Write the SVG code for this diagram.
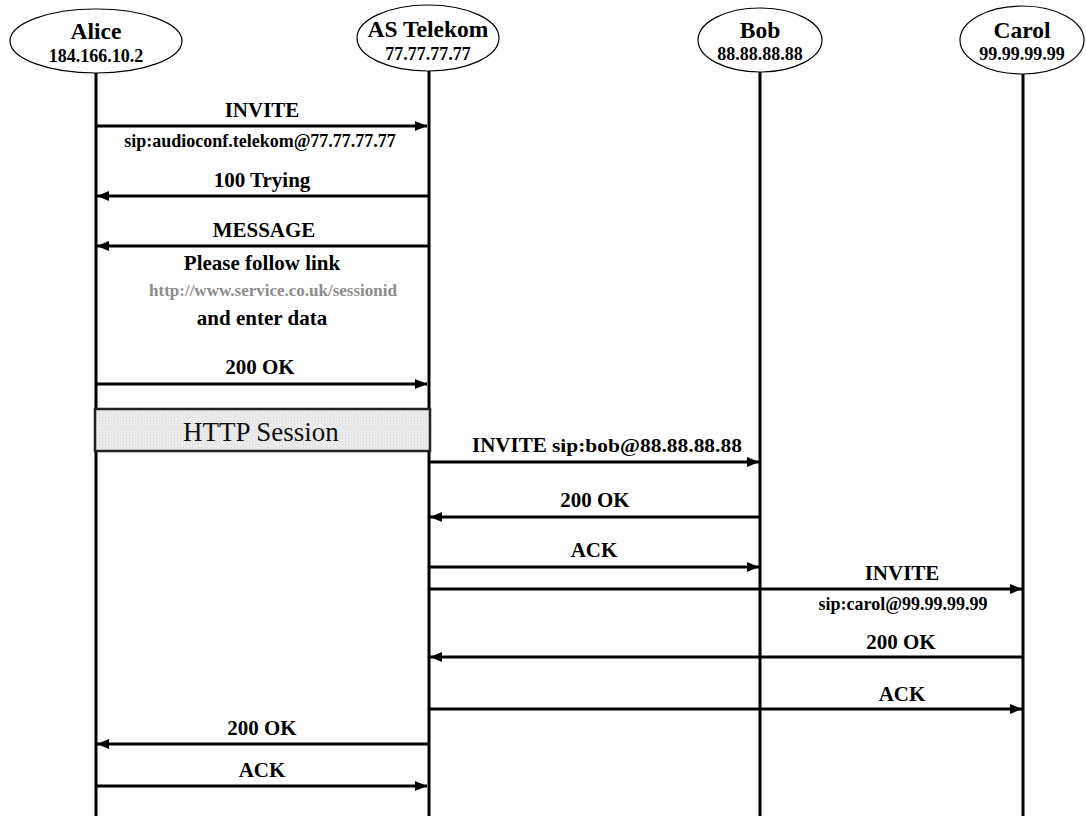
<svg xmlns="http://www.w3.org/2000/svg" width="1086" height="816" viewBox="0 0 1086 816">
<style>
.node ellipse{fill:#fff;stroke:#000;stroke-width:1.2}
.name{font-family:"Liberation Serif",serif;font-weight:bold;font-size:23.5px;text-anchor:middle;fill:#000}
.ip{font-family:"Liberation Serif",serif;font-weight:bold;font-size:18px;text-anchor:middle;fill:#000}
.life{stroke:#000;stroke-width:3}
.msg{stroke:#000;stroke-width:3;fill:none;marker-end:url(#ah)}
.lbl{font-family:"Liberation Serif",serif;font-weight:bold;font-size:21px;text-anchor:middle;fill:#000}
.sub{font-family:"Liberation Serif",serif;font-weight:bold;font-size:18px;text-anchor:middle;fill:#000}
.url{fill:#8c8c8c;font-size:17px}
</style>
<defs>
<marker id="ah" markerUnits="userSpaceOnUse" markerWidth="12" markerHeight="10" refX="12" refY="5" orient="auto">
<path d="M0,0 L12,5 L0,10 z" fill="#000"/>
</marker>
<pattern id="dots" width="3" height="3" patternUnits="userSpaceOnUse">
<rect width="3" height="3" fill="#eeeeee"/>
<rect width="1" height="1" fill="#d4d4d4"/>
<rect x="1.5" y="1.5" width="1" height="1" fill="#dcdcdc"/>
</pattern>
</defs>
<rect width="1086" height="816" fill="#fff"/>
<g id="lifelines">
<line class="life" x1="96" y1="73" x2="96" y2="816"/>
<line class="life" x1="429" y1="71" x2="429" y2="816"/>
<line class="life" x1="760" y1="72" x2="760" y2="816"/>
<line class="life" x1="1023" y1="74" x2="1023" y2="816"/>
</g>
<g id="alice" class="node">
<ellipse cx="96" cy="41" rx="86" ry="32"/>
<text class="name" x="96" y="39">Alice</text>
<text class="ip" x="96" y="62">184.166.10.2</text>
</g>
<g id="telekom" class="node">
<ellipse cx="428" cy="38" rx="71" ry="33"/>
<text class="name" x="428" y="37">AS Telekom</text>
<text class="ip" x="428" y="60">77.77.77.77</text>
</g>
<g id="bob" class="node">
<ellipse cx="760" cy="40" rx="62" ry="32"/>
<text class="name" x="760" y="38">Bob</text>
<text class="ip" x="760" y="60">88.88.88.88</text>
</g>
<g id="carol" class="node">
<ellipse cx="1022" cy="40" rx="62" ry="34"/>
<text class="name" x="1022" y="38">Carol</text>
<text class="ip" x="1022" y="60">99.99.99.99</text>
</g>
<g id="http-session">
<rect x="95" y="409" width="335" height="42" fill="url(#dots)" stroke="#222" stroke-width="2.5"/>
<text x="261" y="441" font-family="Liberation Serif, serif" font-size="27" text-anchor="middle" fill="#111">HTTP Session</text>
</g>
<g id="connectors">
<line class="msg" x1="97" y1="126" x2="427" y2="126"/>
<line class="msg" x1="428" y1="196" x2="97" y2="196"/>
<line class="msg" x1="428" y1="246" x2="97" y2="246"/>
<line class="msg" x1="97" y1="384" x2="427" y2="384"/>
<line class="msg" x1="430" y1="462" x2="759" y2="462"/>
<line class="msg" x1="759" y1="517" x2="430" y2="517"/>
<line class="msg" x1="430" y1="567" x2="759" y2="567"/>
<line class="msg" x1="430" y1="589" x2="1022" y2="589"/>
<line class="msg" x1="1022" y1="657" x2="430" y2="657"/>
<line class="msg" x1="430" y1="709" x2="1022" y2="709"/>
<line class="msg" x1="428" y1="744" x2="97" y2="744"/>
<line class="msg" x1="97" y1="786" x2="427" y2="786"/>
</g>
<g id="labels">
<text class="lbl" x="262" y="117">INVITE</text>
<text class="sub" x="260" y="147">sip:audioconf.telekom@77.77.77.77</text>
<text class="lbl" x="262" y="187">100 Trying</text>
<text class="lbl" x="264" y="237">MESSAGE</text>
<text class="lbl" x="262" y="270">Please follow link</text>
<text class="sub url" x="273" y="296">http://www.service.co.uk/sessionid</text>
<text class="lbl" x="262" y="325">and enter data</text>
<text class="lbl" x="260" y="374">200 OK</text>
<text class="lbl" x="472" y="452" style="text-anchor:start">INVITE <tspan font-size="18" textLength="190" lengthAdjust="spacingAndGlyphs">sip:bob@88.88.88.88</tspan></text>
<text class="lbl" x="595" y="507">200 OK</text>
<text class="lbl" x="594" y="557">ACK</text>
<text class="lbl" x="902" y="580">INVITE</text>
<text class="sub" x="903" y="610">sip:carol@99.99.99.99</text>
<text class="lbl" x="901" y="649">200 OK</text>
<text class="lbl" x="902" y="701">ACK</text>
<text class="lbl" x="262" y="735">200 OK</text>
<text class="lbl" x="262" y="777">ACK</text>
</g>
</svg>
